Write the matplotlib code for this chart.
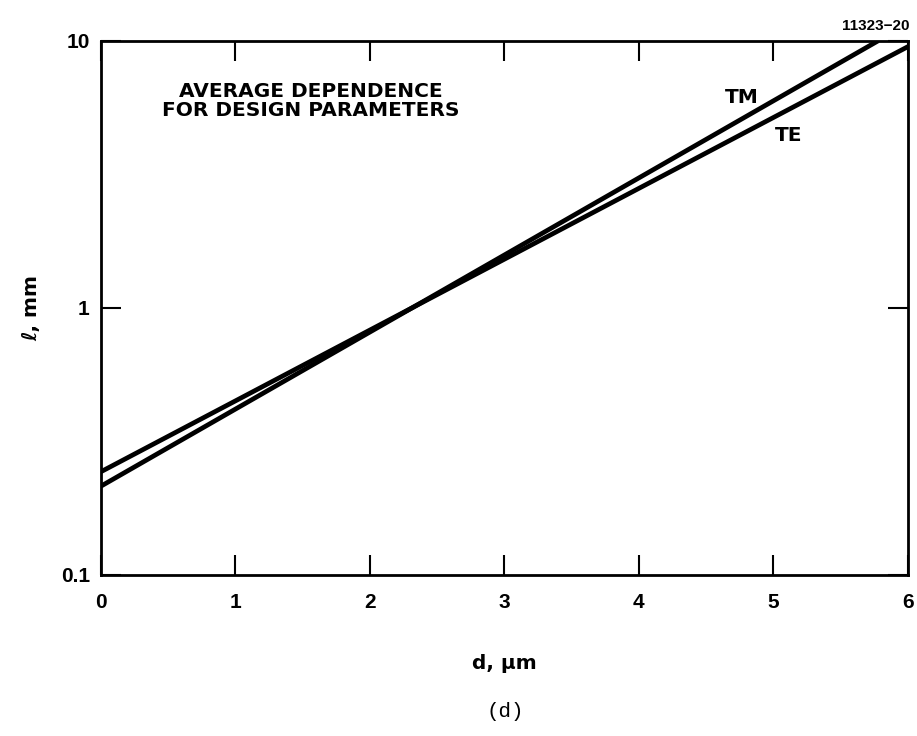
import matplotlib
matplotlib.use("Agg")
import matplotlib.pyplot as plt
from matplotlib.ticker import FixedLocator, FixedFormatter, NullLocator

# waveguide length vs. thickness, straight lines on log axis
d_tm = [0.0, 5.78]
l_tm = [0.215, 10.0]
d_te = [0.0, 6.0]
l_te = [0.2435, 9.5]

x_ticks = [0, 1, 2, 3, 4, 5, 6]
y_ticks = [0.1, 1, 10]
y_labels = ["0.1", "1", "10"]

plt.rcParams['font.family'] = ['Liberation Sans', 'DejaVu Sans']
plt.rcParams['font.weight'] = 'bold'

fig = plt.figure(figsize=(9.17, 7.36), dpi=100)
ax = fig.add_axes([0.1101, 0.2188, 0.8800, 0.7259])

ax.plot(d_tm, l_tm, color='black', linewidth=3.4, solid_capstyle='butt')
ax.plot(d_te, l_te, color='black', linewidth=3.4, solid_capstyle='butt')

ax.set_yscale('log')
ax.set_xlim(0, 6)
ax.set_ylim(0.1, 10)

ax.xaxis.set_major_locator(FixedLocator(x_ticks))
ax.yaxis.set_major_locator(FixedLocator(y_ticks))
ax.yaxis.set_major_formatter(FixedFormatter(y_labels))
ax.yaxis.set_minor_locator(NullLocator())

ax.tick_params(direction='in', length=14.5, width=1.5, top=True, right=True,
               labelsize=15, colors='black')
ax.tick_params(axis='x', pad=13)
ax.tick_params(axis='y', pad=8)
for lbl in ax.get_xticklabels() + ax.get_yticklabels():
    lbl.set_fontweight('bold')
for sp in ax.spines.values():
    sp.set_linewidth(2.0)

ax.text(1.56, 5.95, "AVERAGE DEPENDENCE\nFOR DESIGN PARAMETERS",
        fontsize=14.5, fontweight='bold', ha='center', va='center',
        multialignment='center', linespacing=0.95, family=['DejaVu Sans'])
ax.text(4.64, 6.15, "TM", fontsize=14.5, fontweight='bold', ha='left',
        va='center', family=['DejaVu Sans'])
ax.text(5.01, 4.4, "TE", fontsize=14.5, fontweight='bold', ha='left',
        va='center', family=['DejaVu Sans'])

fig.text(0.992, 0.964, "11323\u221220", fontsize=11, fontweight='bold',
         ha='right', va='center')

ax.set_xlabel("d, \u03bcm", fontsize=14.5, fontweight='bold', labelpad=30,
              family=['DejaVu Sans'])
ax.set_ylabel("\u2113, mm", fontsize=14.5, fontweight='bold', labelpad=14,
              family=['DejaVu Sans'])

fig.text(0.551, 0.033, "(d)", fontsize=15, family='Liberation Mono',
         fontweight='normal', ha='center', va='center')

fig.savefig("out.png", dpi=100)
